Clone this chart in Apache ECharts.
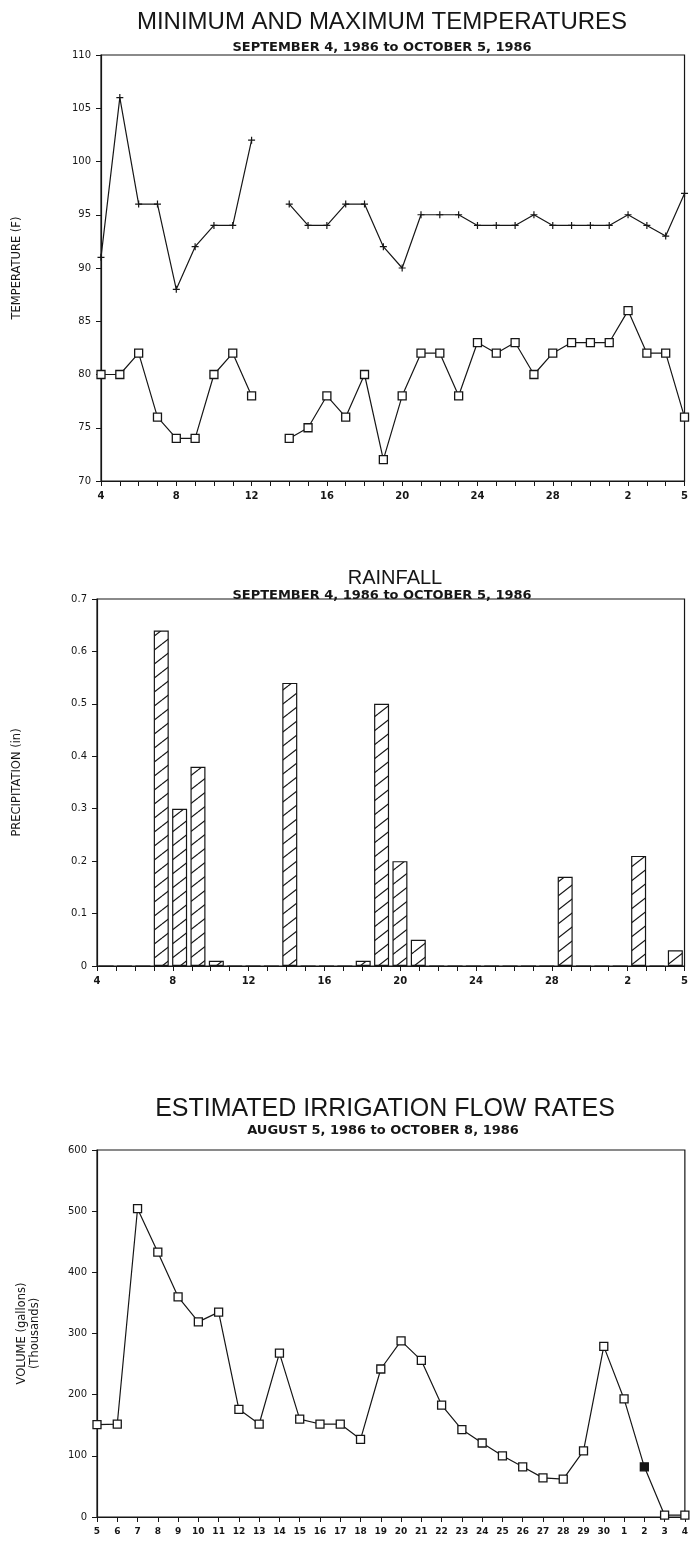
<!DOCTYPE html>
<html>
<head>
<meta charset="utf-8">
<script src="https://cdn.jsdelivr.net/npm/echarts@6/dist/echarts.min.js"></script>
<style>
  html, body { margin: 0; padding: 0; background: #fff; }
  #chart { width: 691px; height: 1550px; }
</style>
</head>
<body>
<div id="chart"></div>
<script>
// days of September 4 .. October 5, 1986 (temperature and rainfall)
var days = ['4','5','6','7','8','9','10','11','12','13','14','15','16','17','18','19','20',
            '21','22','23','24','25','26','27','28','29','30','1','2','3','4','5'];
// max / min temperature (F), no reading on Sep 13
var maxTemp = [91,106,96,96,88,92,94,94,102,null,96,94,94,96,96,92,90,
               95,95,95,94,94,94,95,94,94,94,94,95,94,93,97];
var minTemp = [80,80,82,76,74,74,80,82,78,null,74,75,78,76,80,72,78,
               82,82,78,83,82,83,80,82,83,83,83,86,82,82,76];
// rainfall (in)
var rain = [0,0,0,0.64,0.30,0.38,0.01,0,0,0,0.54,0,0,0,0.01,0.50,0.20,
            0.05,0,0,0,0,0,0,0,0.17,0,0,0,0.21,0,0.03];
// irrigation flow, thousands of gallons
var flowDays = ['5','6','7','8','9','10','11','12','13','14','15','16','17','18','19','20',
                '21','22','23','24','25','26','27','28','29','30','1','2','3','4'];
var flow = [151,152,504,433,360,319,335,176,152,268,160,152,152,127,242,288,
            256,183,143,121,100,82,64,62,108,279,193,82,3,3];
var filledPoint = 27; // the dark marker on the 2nd

var ink = '#161616';
var font = 'DejaVu Sans';

// hatch fill for the bars
var hatch = document.createElement('canvas');
hatch.width = 18; hatch.height = 14;
var hc = hatch.getContext('2d');
hc.strokeStyle = ink; hc.lineWidth = 1.2;
for (var k = -1; k <= 1; k++) {
  hc.beginPath();
  hc.moveTo(0, 14 + k * 14);
  hc.lineTo(18, 0 + k * 14);
  hc.stroke();
}

function frame(left, top, width, height) {
  return {left: left, top: top, width: width, height: height, show: true,
          borderColor: ink, borderWidth: 1.2, backgroundColor: 'transparent'};
}
function yAxis(grid, min, max, step, name, gap) {
  return {
    gridIndex: grid, type: 'value', min: min, max: max, interval: step,
    name: name, nameLocation: 'middle', nameGap: gap, nameRotate: 90,
    nameTextStyle: {fontFamily: font, fontSize: 11.5, color: ink, lineHeight: 13},
    axisLine: {show: true, lineStyle: {color: ink, width: 1.2}},
    axisTick: {show: true, length: 5, lineStyle: {color: ink}},
    axisLabel: {fontFamily: font, fontSize: 10, color: ink, margin: 10},
    splitLine: {show: false}
  };
}
function xLabels(grid, data, showIdx, size) {
  return {
    gridIndex: grid, type: 'category', data: data, boundaryGap: false,
    axisLine: {lineStyle: {color: ink, width: 1.2}},
    axisTick: {interval: 0, length: 5, lineStyle: {color: ink}},
    axisLabel: {interval: showIdx, fontFamily: font, fontWeight: 'bold',
                fontSize: size, color: ink, margin: 10},
    splitLine: {show: false}
  };
}
function t(text, x, y, size, bold) {
  return {text: text, left: x, top: y, textAlign: 'center',
          textStyle: {fontFamily: bold ? font : 'Liberation Sans',
                      fontWeight: bold ? 'bold' : 'normal', fontSize: size, color: ink}};
}

var everyFour = function (i) { return i % 4 === 0 || i === days.length - 1; };
var plus = 'path://M0,5L10,5M5,0L5,10';

var option = {
  animation: false,
  backgroundColor: '#fff',
  title: [
    t('MINIMUM AND MAXIMUM TEMPERATURES', 377, 5, 24, false),
    t('SEPTEMBER 4, 1986 to OCTOBER 5, 1986', 377, 36, 13, true),
    t('RAINFALL', 390, 563, 20, false),
    t('SEPTEMBER 4, 1986 to OCTOBER 5, 1986', 377, 584, 13, true),
    t('ESTIMATED IRRIGATION FLOW RATES', 380, 1092, 25, false),
    t('AUGUST 5, 1986 to OCTOBER 8, 1986', 378, 1119, 13, true)
  ],
  grid: [
    frame(101, 55, 587, 426),
    frame(97, 599, 591, 367),
    frame(97, 1150, 589, 367)
  ],
  xAxis: [
    xLabels(0, days, everyFour, 10),
    xLabels(1, days, everyFour, 10),
    {gridIndex: 1, type: 'category', data: days, boundaryGap: true, show: false},
    xLabels(2, flowDays, 0, 9)
  ],
  yAxis: [
    yAxis(0, 70, 110, 5, 'TEMPERATURE (F)', 77),
    yAxis(1, 0, 0.7, 0.1, 'PRECIPITATION (in)', 73),
    yAxis(2, 0, 600, 100, 'VOLUME (gallons)\n(Thousands)', 55)
  ],
  series: [
    {
      type: 'line', xAxisIndex: 0, yAxisIndex: 0, data: maxTemp,
      connectNulls: false, symbol: plus, symbolSize: 7, showAllSymbol: true,
      lineStyle: {color: ink, width: 1.2},
      itemStyle: {color: ink, borderColor: ink, borderWidth: 1.2}
    },
    {
      type: 'line', xAxisIndex: 0, yAxisIndex: 0, data: minTemp,
      connectNulls: false, symbol: 'rect', symbolSize: 8, showAllSymbol: true,
      lineStyle: {color: ink, width: 1.2},
      itemStyle: {color: '#fff', borderColor: ink, borderWidth: 1.3}
    },
    {
      type: 'bar', xAxisIndex: 2, yAxisIndex: 1, data: rain, barWidth: 15,
      itemStyle: {color: {image: hatch, repeat: 'repeat'}, borderColor: ink, borderWidth: 1.2}
    },
    {
      type: 'line', xAxisIndex: 3, yAxisIndex: 2,
      data: flow.map(function (v, i) {
        return i === filledPoint ? {value: v, itemStyle: {color: ink}} : v;
      }),
      symbol: 'rect', symbolSize: 8, showAllSymbol: true,
      lineStyle: {color: ink, width: 1.2},
      itemStyle: {color: '#fff', borderColor: ink, borderWidth: 1.3}
    }
  ]
};

var chart = echarts.init(document.getElementById('chart'), null, {renderer: 'canvas'});
chart.setOption(option);
</script>
</body>
</html>
